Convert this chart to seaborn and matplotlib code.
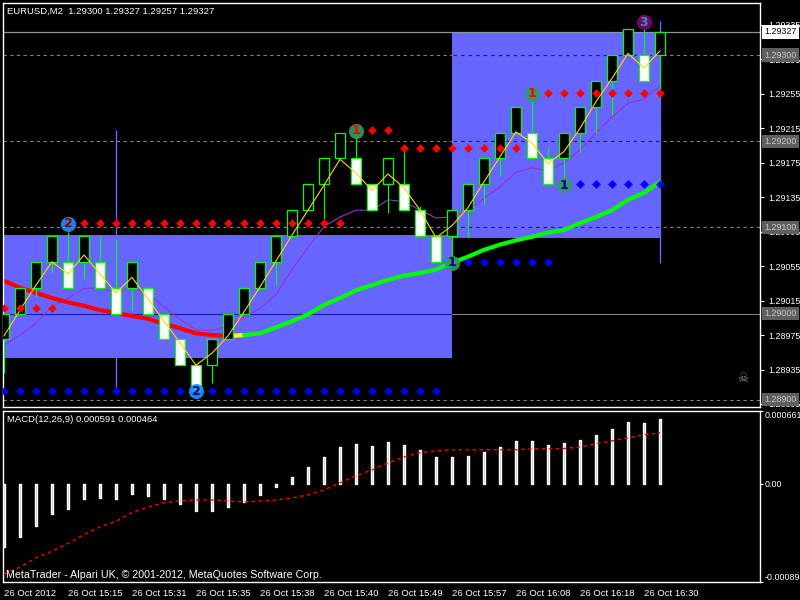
import numpy as np
import pandas as pd
import seaborn as sns
import matplotlib.pyplot as plt
import matplotlib.patches as mpatches

# ------------------------------------------------------------------
# datos: barras renko EURUSD M2 (caja de 3 pips)
# ------------------------------------------------------------------
bars = list(range(42))
opens = [1.28970, 1.29000, 1.29030, 1.29060, 1.29060, 1.29060, 1.29060, 1.29030, 1.29030, 1.29030,
         1.29000, 1.28970, 1.28940, 1.28940, 1.28970, 1.29000, 1.29030, 1.29060, 1.29090, 1.29120,
         1.29150, 1.29180, 1.29180, 1.29150, 1.29150, 1.29150, 1.29120, 1.29090, 1.29090, 1.29120,
         1.29150, 1.29180, 1.29210, 1.29210, 1.29180, 1.29180, 1.29210, 1.29240, 1.29270, 1.29300,
         1.29300, 1.29300]
closes = [1.29000, 1.29030, 1.29060, 1.29090, 1.29030, 1.29090, 1.29030, 1.29000, 1.29060, 1.29000,
          1.28970, 1.28940, 1.28910, 1.28970, 1.29000, 1.29030, 1.29060, 1.29090, 1.29120, 1.29150,
          1.29180, 1.29210, 1.29150, 1.29120, 1.29180, 1.29120, 1.29090, 1.29060, 1.29120, 1.29150,
          1.29180, 1.29210, 1.29240, 1.29180, 1.29150, 1.29210, 1.29240, 1.29270, 1.29300, 1.29330,
          1.29270, 1.29327]
highs = [1.29000, 1.29030, 1.29060, 1.29090, 1.29095, 1.29090, 1.29090, 1.29087, 1.29060, 1.29030,
         1.29000, 1.28970, 1.28940, 1.28970, 1.29000, 1.29030, 1.29060, 1.29090, 1.29120, 1.29150,
         1.29180, 1.29210, 1.29211, 1.29150, 1.29180, 1.29195, 1.29125, 1.29090, 1.29120, 1.29150,
         1.29180, 1.29210, 1.29240, 1.29255, 1.29192, 1.29210, 1.29240, 1.29270, 1.29300, 1.29330,
         1.29330, 1.29327]
lows = [1.28931, 1.29000, 1.29019, 1.29047, 1.29030, 1.29040, 1.29030, 1.29000, 1.29004, 1.29000,
        1.28970, 1.28940, 1.28910, 1.28919, 1.28970, 1.29000, 1.29030, 1.29033, 1.29090, 1.29120,
        1.29110, 1.29180, 1.29150, 1.29120, 1.29117, 1.29120, 1.29090, 1.29060, 1.29060, 1.29089,
        1.29127, 1.29160, 1.29210, 1.29180, 1.29150, 1.29157, 1.29188, 1.29210, 1.29231, 1.29300,
        1.29270, 1.29257]

# indicadores del panel principal
yellow_line = [1.28974, 1.29004, 1.29033, 1.29060, 1.29046, 1.29068, 1.29046, 1.29024, 1.29042, 1.29017,
               1.28991, 1.28966, 1.28940, 1.28954, 1.28974, 1.29002, 1.29031, 1.29061, 1.29091, 1.29120,
               1.29149, 1.29179, 1.29163, 1.29143, 1.29162, 1.29146, 1.29120, 1.29088, 1.29102, 1.29123,
               1.29153, 1.29182, 1.29211, 1.29198, 1.29174, 1.29188, 1.29215, 1.29246, 1.29273, 1.29302,
               1.29285, 1.29305]
purple_line = [1.28963, 1.28975, 1.28989, 1.29008, 1.29018, 1.29029, 1.29030, 1.29024, 1.29031, 1.29023,
               1.29008, 1.28993, 1.28981, 1.28980, 1.28986, 1.28996, 1.29006, 1.29022, 1.29051, 1.29077,
               1.29101, 1.29112, 1.29120, 1.29120, 1.29132, 1.29130, 1.29120, 1.29111, 1.29112, 1.29120,
               1.29134, 1.29147, 1.29164, 1.29169, 1.29166, 1.29175, 1.29190, 1.29210, 1.29228, 1.29244,
               1.29249, 1.29264]
trend_ma = [1.29038, 1.29030, 1.29024, 1.29018, 1.29013, 1.29009, 1.29004, 1.29001, 1.28997, 1.28994,
            1.28988, 1.28983, 1.28977, 1.28975, 1.28974, 1.28975, 1.28977, 1.28984, 1.28991, 1.28999,
            1.29010, 1.29018, 1.29027, 1.29033, 1.29039, 1.29044, 1.29047, 1.29051, 1.29059, 1.29066,
            1.29074, 1.29080, 1.29085, 1.29089, 1.29094, 1.29097, 1.29105, 1.29112, 1.29120, 1.29132,
            1.29140, 1.29153]
ma_turn = (14, 15)   # rojo hasta 14, amarillo 14-15, verde desde 15

# niveles (rombos): (precio, primera barra, ultima barra)
red_levels = [(1.29006, 0, 3), (1.29105, 5, 21), (1.29213, 23, 24), (1.29192, 25, 32), (1.29256, 34, 41)]
blue_levels = [(1.28910, 0, 11), (1.28910, 13, 27), (1.29060, 29, 34), (1.29150, 36, 41)]

# señales: (barra, precio, texto, color circulo, color texto)
signals = [(4, 1.29104, "2", "#1e90ff", "#8b0000"),
           (12, 1.28910, "2", "#1e90ff", "#000080"),
           (22, 1.29212, "1", "#2e9e62", "#ff0000"),
           (28, 1.29059, "1", "#2e9e62", "#000080"),
           (33, 1.29255, "1", "#2e9e62", "#ff0000"),
           (35, 1.29149, "1", "#2e9e62", "#000080"),
           (40, 1.29338, "3", "#800080", "#20a0a0")]

# rectangulos (barra ini, barra fin, precio bajo, precio alto)
boxes = [(-2, 28, 1.28948, 1.29091), (28, 41, 1.29088, 1.29327)]
range_lines = [(7, 1.28911, 1.29213), (41, 1.29059, 1.29340)]

# lineas horizontales
bid_price = 1.29327
round_levels = [1.29300, 1.29200, 1.29100, 1.29000, 1.28900]
solid_levels = [1.29000]
price_ticks = [1.29335, 1.29295, 1.29255, 1.29215, 1.29175, 1.29135,
               1.29095, 1.29055, 1.29015, 1.28975, 1.28935, 1.28895]

# MACD
macd_hist = [-0.000573, -0.000482, -0.000382, -0.000273, -0.000227, -0.000136, -0.000127, -0.000136,
             -0.000091, -0.000109, -0.000136, -0.000182, -0.000245, -0.000245, -0.000209, -0.000164,
             -0.000100, -0.000027, 0.000064, 0.000155, 0.000245, 0.000336, 0.000364, 0.000345,
             0.000382, 0.000355, 0.000309, 0.000245, 0.000245, 0.000255, 0.000291, 0.000336,
             0.000391, 0.000391, 0.000355, 0.000373, 0.000400, 0.000445, 0.000500, 0.000564,
             0.000555, 0.000591]
macd_signal = [-0.000818, -0.000755, -0.000670, -0.000610, -0.000540, -0.000460, -0.000390, -0.000340,
               -0.000260, -0.000210, -0.000170, -0.000155, -0.000145, -0.000145, -0.000155, -0.000164,
               -0.000155, -0.000145, -0.000127, -0.000100, -0.000055, 0.000009, 0.000073, 0.000127,
               0.000190, 0.000245, 0.000282, 0.000300, 0.000310, 0.000310, 0.000310, 0.000310,
               0.000310, 0.000318, 0.000318, 0.000320, 0.000336, 0.000364, 0.000390, 0.000418,
               0.000445, 0.000464]
macd_ticks = [0.000661, 0.0, -0.00089]
macd_labels = ["0.000661", "0.00", "-0.00089"]

time_ticks = [0, 4, 8, 12, 16, 20, 24, 28, 32, 36, 40]
time_labels = ["26 Oct 2012", "26 Oct 15:15", "26 Oct 15:31", "26 Oct 15:35", "26 Oct 15:38",
               "26 Oct 15:40", "26 Oct 15:49", "26 Oct 15:57", "26 Oct 16:08", "26 Oct 16:18",
               "26 Oct 16:30"]

# ------------------------------------------------------------------
# estilo
# ------------------------------------------------------------------
sns.set_theme(style="dark", rc={
    "figure.facecolor": "black", "axes.facecolor": "black", "axes.edgecolor": "white",
    "axes.linewidth": 1.0, "text.color": "white", "xtick.color": "white", "ytick.color": "white",
    "axes.grid": False,
})
plt.rcParams["font.family"] = ["Liberation Sans", "DejaVu Sans"]

fig = plt.figure(figsize=(8, 6), dpi=100)
W, H = 800, 600
ax = fig.add_axes([3 / W, 1 - 407 / H, 757 / W, 404 / H])
ax2 = fig.add_axes([3 / W, 1 - 582 / H, 757 / W, 171 / H])

x_lim = (-0.0625, 47.25)
for a in (ax, ax2):
    a.set_xlim(*x_lim)
    for s in a.spines.values():
        s.set_color("white")
        s.set_linewidth(1)

ax.set_ylim(1.288915, 1.293605)

# rectangulos azules
rects = []
for x0, x1, lo, hi in boxes:
    r = mpatches.Rectangle((x0, lo), x1 - x0, hi - lo, facecolor="#6666ff", edgecolor="none", zorder=0.5)
    ax.add_patch(r)
    rects.append(r)

# lineas horizontales
ax.axhline(bid_price, color="#8596a8", lw=0.9, zorder=1)
for p in round_levels:
    ls = "-" if p in solid_levels else (0, (3, 3))
    ax.axhline(p, color="#808080", lw=0.8, ls=ls, zorder=1)
    for r in rects:
        ln = ax.axhline(p, color="#1c1cb0", lw=0.9, ls=ls, zorder=1.1)
        ln.set_clip_path(r)

for b, lo, hi in range_lines:
    ax.vlines(b, lo, hi, color="#6666ff", lw=1, zorder=1.2)

# indicadores
sns.lineplot(x=bars, y=purple_line, ax=ax, color="#9932cc", lw=0.8, zorder=2)
sns.lineplot(x=bars[:ma_turn[0] + 1], y=trend_ma[:ma_turn[0] + 1], ax=ax, color="#ff0000", lw=3, zorder=2.2)
sns.lineplot(x=bars[ma_turn[0]:ma_turn[1] + 1], y=trend_ma[ma_turn[0]:ma_turn[1] + 1], ax=ax,
             color="#ffff00", lw=3, zorder=2.2)
sns.lineplot(x=bars[ma_turn[1]:], y=trend_ma[ma_turn[1]:], ax=ax, color="#00ff00", lw=3, zorder=2.2)

# velas
bull = [c >= o for o, c in zip(opens, closes)]
ax.vlines(bars, lows, highs, color="#00ff00", lw=0.8, zorder=3)
ax.bar(bars, np.array(closes) - np.array(opens), bottom=opens, width=0.58,
       color=["black" if u else "white" for u in bull], edgecolor="#00ff00", linewidth=0.9, zorder=3.1)

sns.lineplot(x=bars, y=yellow_line, ax=ax, color="#ffd700", lw=0.8, zorder=3.5)

# rombos de niveles
for levels, col in ((red_levels, "#ff0000"), (blue_levels, "#0000ff")):
    for p, a0, a1 in levels:
        xs = list(range(a0, a1 + 1))
        sns.scatterplot(x=xs, y=[p] * len(xs), ax=ax, marker="D", s=20, color=col, linewidth=0, zorder=4)

# señales
for b, p, t, fc, tc in signals:
    ax.scatter([b], [p], s=120, color=fc, alpha=0.9, linewidth=0, zorder=5)
    ax.text(b, p, t, color=tc, fontsize=9, fontweight="bold", ha="center", va="center",
            zorder=6, family="DejaVu Sans")

ax.set_xticks([])
ax.yaxis.tick_right()
ax.set_yticks(price_ticks)
ax.set_yticklabels([f"{p:.5f}" for p in price_ticks])
ax.tick_params(axis="y", colors="white", length=3, width=0.8, pad=3, labelsize=6.4, direction="out")

# etiquetas de precio resaltadas
lab_kw = dict(transform=ax.get_yaxis_transform(), ha="left", va="center", fontsize=6.4,
              clip_on=False, zorder=10)
ax.text(1.006, bid_price, f"{bid_price:.5f}", color="black",
        bbox=dict(boxstyle="square,pad=0.25", fc="white", ec="none"), **lab_kw)
for p in round_levels:
    ax.text(1.006, p, f"{p:.5f}", color="#c8c8c8",
            bbox=dict(boxstyle="square,pad=0.25", fc="#5f5f5f", ec="none"), **lab_kw)

ax.text(46.2, 1.28925, "\u2620", color="#808080", fontsize=9, ha="center", va="center", family="DejaVu Sans")

# ------------------------------------------------------------------
# MACD
# ------------------------------------------------------------------
ax2.set_ylim(-0.00089, 0.000661)
ax2.bar(bars, macd_hist, width=0.14, color="#c0c0c0", zorder=2)
sns.lineplot(x=bars, y=macd_signal, ax=ax2, color="#ff0000", lw=1, linestyle=(0, (2.5, 2.5)), zorder=3)

ax2.yaxis.tick_right()
ax2.set_yticks(macd_ticks)
ax2.set_yticklabels(macd_labels)
ax2.tick_params(axis="y", colors="white", length=2, width=0.8, pad=1, labelsize=6.4, direction="out")
ylabs = ax2.get_yticklabels()
ylabs[0].set_va("top")
ylabs[2].set_va("bottom")

ax2.set_xticks(time_ticks)
ax2.set_xticklabels(time_labels, ha="left")
ax2.tick_params(axis="x", colors="white", length=3, width=0.8, pad=2, labelsize=6.8, direction="out")

# textos
fig.text(7 / W, 1 - 11 / H, "EURUSD,M2  1.29300 1.29327 1.29257 1.29327", color="white",
         fontsize=6.8, va="center", ha="left")
fig.text(7 / W, 1 - 420 / H, "MACD(12,26,9) 0.000591 0.000464", color="white",
         fontsize=6.8, va="center", ha="left")
fig.text(6 / W, 1 - 575 / H, "MetaTrader - Alpari UK, \u00a9 2001-2012, MetaQuotes Software Corp.",
         color="white", fontsize=7.7, va="center", ha="left")

fig.savefig("out.png", dpi=100, facecolor="black")
